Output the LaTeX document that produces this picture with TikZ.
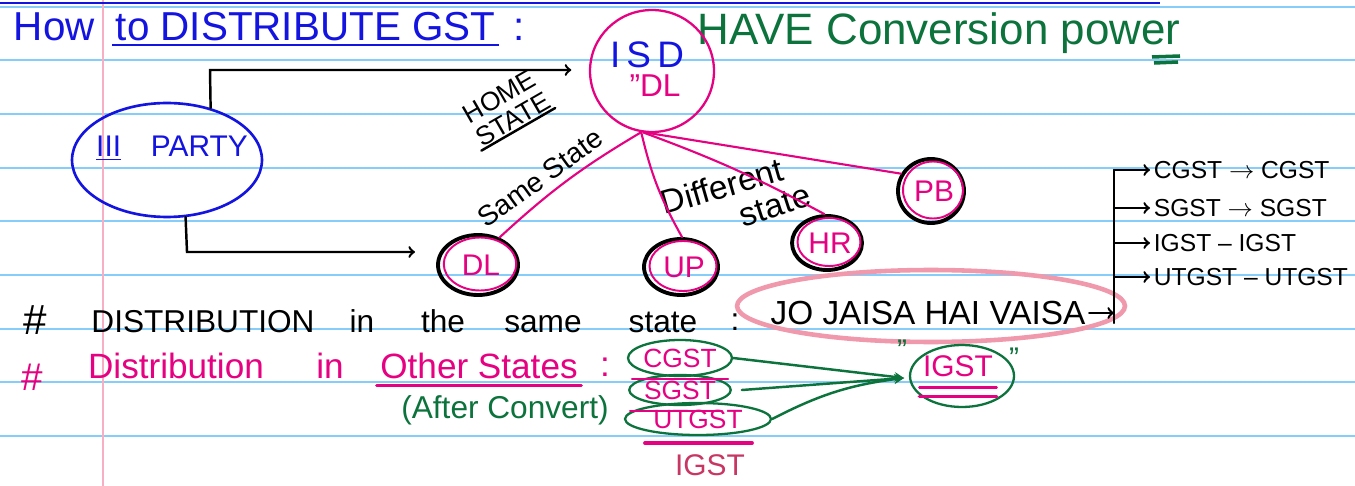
\documentclass[tikz,border=0pt]{standalone}
\usepackage{fontspec}
\setmainfont{Liberation Sans}
\usepackage{xcolor}
\definecolor{inkblue}{RGB}{20,20,225}
\definecolor{inkpink}{RGB}{230,0,130}
\definecolor{inkgreen}{RGB}{12,115,60}
\definecolor{softpink}{RGB}{240,152,172}
\definecolor{deeppink}{RGB}{200,55,100}
\definecolor{rulecol}{RGB}{135,205,250}
\definecolor{margincol}{RGB}{248,175,195}
\usepackage{tikz}
\usetikzlibrary{positioning, shapes.geometric, arrows}
\tikzstyle{word} = [
    inner sep=2pt,
    font=\fontsize{18}{21}\selectfont,
]
\tikzstyle{blueword} = [word, text=inkblue]
\tikzstyle{pinkword} = [word, text=inkpink]
\tikzstyle{greenword} = [word, text=inkgreen]
\tikzstyle{inkword} = [word, text=black]
\tikzstyle{titleword} = [
    blueword, anchor=base west,
    font=\fontsize{23}{26}\selectfont,
]
\tikzstyle{oval} = [
    ellipse, inner sep=0pt,
]
\tikzstyle{cityring} = [
    oval,
    draw=black,
    line width=2.2pt,
]
\tikzstyle{pinkring} = [
    oval,
    draw=inkpink,
    line width=1.1pt,
]
\tikzstyle{taxoval} = [
    oval,
    draw=inkgreen,
    line width=1.3pt,
    text=inkpink,
    font=\fontsize{15}{17}\selectfont,
]
\tikzstyle{pen} = [line width=1.4pt, line cap=round]
\tikzstyle{pinkpen} = [pen, draw=inkpink, line width=1.2pt]
\tikzstyle{arrow} = [pen, ->, >=to]
\tikzstyle{greenarrow} = [pen, draw=inkgreen, ->, >=stealth]

\begin{document}
\begin{tikzpicture}[x=0.02cm, y=-0.02cm]
    \useasboundingbox (0,0) rectangle (1355,486);
    % ruled sheet
    \fill[white] (0,0) rectangle (1355,486);
    \foreach \y in {7,60,114,168,221,275,329,382,436} {
        \draw[rulecol, line width=0.9pt] (0,\y) -- (1355,\y);
    }
    \draw[margincol, line width=0.9pt] (103,0) -- (103,486);
    \draw[inkblue, line width=1.6pt] (0,3) -- (1160,3);

    % heading
    \node[titleword] (howlbl) at (10,41) {How};
    \node[titleword] (titlelbl) at (112,41) {to DISTRIBUTE GST};
    \node[titleword] (titlecolon) at (510,41) {:};
    \draw[inkblue, line width=1.3pt] (titlelbl.south west) -- (titlelbl.south east);
    \node[greenword, anchor=base west, font=\fontsize{25}{28}\selectfont] (powerlbl) at (694,45) {HAVE Conversion power};
    \draw[inkgreen, line width=2pt] (1152,57) -- (1180,56);
    \draw[inkgreen, line width=2pt] (1154,63) -- (1178,62);

    % boxes
    \node[oval, draw=inkpink, line width=1.3pt, minimum width=2.48cm, minimum height=2.44cm] (isd) at (652,71) {};
    \node[blueword, font=\fontsize{21}{24}\selectfont] (isdlbl) at (647,55) {I\,S\,D};
    \node[pinkword, font=\fontsize{18}{21}\selectfont] (isdsub) at (655,86) {"DL};

    \node[oval, draw=inkblue, line width=1.5pt, minimum width=3.8cm, minimum height=2.28cm] (party) at (167,160) {};
    \node[blueword, font=\fontsize{17}{20}\selectfont] (partylbl) at (172,148) {\underline{III}\quad PARTY};

    \foreach \st/\x/\y/\w/\h/\iw/\ih in {DL/478/265/1.6/1.2/1.45/1.06, UP/681/267/1.48/1.12/1.34/1.0, HR/827/243/1.4/1.08/1.26/0.96, PB/931/191/1.32/1.28/1.2/1.14} {
        \node[cityring, minimum width=\w cm, minimum height=\h cm] (\st) at (\x,\y) {};
        \node[pinkring, minimum width=\iw cm, minimum height=\ih cm] (ring\st) at (\x+2,\y-1) {};
        \node[pinkword, font=\fontsize{17}{20}\selectfont] (lbl\st) at (\x+3,\y) {\st};
    }

    \node[inkword, rotate=30, align=center, inner sep=1pt, font=\fontsize{15}{15}\selectfont] (homelbl) at (506,108) {HOME\\STATE};
    \draw[pen] (homelbl.south west) -- (homelbl.south east);
    \node[inkword, font=\fontsize{16}{19}\selectfont, rotate=36, inner sep=1pt] (samelbl) at (540,178) {Same State};
    \node[inkword, font=\fontsize{19}{22}\selectfont, rotate=16, inner sep=1pt] (difflbl) at (722,186) {Different};
    \node[inkword, font=\fontsize{19}{22}\selectfont, rotate=18, inner sep=1pt] (diffstate) at (775,206) {state};

    % arrows
    \coordinate (partyup) at (210,70);
    \coordinate (partydown) at (187,252);
    \draw[arrow, shorten >=10pt] (party.50) -- (partyup) -- (partyup -| isd.west);
    \draw[arrow, shorten >=12pt] (party.-72) -- (partydown) -- (partydown -| DL.west);

    \draw[pinkpen] (isd.-100) to[bend right=6] (DL.52);
    \draw[pinkpen] (isd.-100) to[bend right=8] (UP.88);
    \draw[pinkpen] (isd.-98) to[bend left=4] (HR.95);
    \draw[pinkpen] (isd.-93) -- (PB.150);

    % same state line
    \node[inkword, anchor=base, font=\fontsize{24}{26}\selectfont] (hash1) at (35,334) {\#};
    \foreach \w/\x in {DISTRIBUTION/203, in/362, the/443, same/543, state/663} {
        \node[inkword, anchor=base] (w\w) at (\x,332) {\w};
    }
    \node[inkword, anchor=base] (colon1) at (735,330) {:};

    \node[oval, draw=softpink, line width=2.6pt, minimum width=7.76cm, minimum height=1.44cm] (samering) at (931,306) {};
    \node[inkword, font=\fontsize{19}{22}\selectfont] (jojaisa) at (928,313) {JO JAISA HAI VAISA};

    \coordinate (bustop) at (1114,170);
    \coordinate (busbot) at (1114,323);
    \draw[pen] (bustop) -- (busbot);
    \draw[arrow] (jojaisa.east) -- (jojaisa.east -| busbot);
    \foreach \txt/\y [count=\i] in {{CGST $\rightarrow$ CGST}/170, {SGST $\rightarrow$ SGST}/208, {IGST -- IGST}/243, {UTGST -- UTGST}/277} {
        \coordinate (bus\i) at (1114,\y);
        \node[inkword, anchor=west, font=\fontsize{14}{16}\selectfont] (row\i) at (1150,\y) {\txt};
        \draw[arrow] (bus\i) -- (row\i.west);
    }

    % other states line
    \node[pinkword, anchor=base, font=\fontsize{22}{24}\selectfont] (hash2) at (32,390) {\#};
    \foreach \w/\x in {Distribution/176, in/330} {
        \node[pinkword, anchor=base, font=\fontsize{20}{23}\selectfont] (p\w) at (\x,378) {\w};
    }
    \node[pinkword, anchor=base, font=\fontsize{20}{23}\selectfont] (otherlbl) at (479,378) {Other States};
    \draw[pinkpen, line width=1.6pt] ([yshift=-2pt]otherlbl.south west) -- ([yshift=-2pt]otherlbl.south east);
    \node[pinkword, anchor=base, font=\fontsize{20}{23}\selectfont] (colon2) at (605,376) {:};
    \node[greenword] (afterlbl) at (505,410) {(After Convert)};

    \node[taxoval, minimum width=2.08cm, minimum height=0.72cm] (cgst) at (680,358) {CGST};
    \node[taxoval, minimum width=1.92cm, minimum height=0.6cm] (sgst) at (680,390) {SGST};
    \node[taxoval, minimum width=2.92cm, minimum height=0.64cm] (utgst) at (698,419) {UTGST};
    \draw[pinkpen] ([xshift=-0.96cm, yshift=-0.04cm]cgst.south) -- ([xshift=0.96cm, yshift=-0.04cm]cgst.south);
    \draw[pinkpen] ([xshift=-1.0cm, yshift=-0.1cm]sgst.south) -- ([xshift=0.84cm, yshift=-0.1cm]sgst.south);
    \draw[pinkpen, line width=2.2pt] ([xshift=-1.06cm, yshift=-0.14cm]utgst.south) -- ([xshift=1.08cm, yshift=-0.14cm]utgst.south);
    \node[word, text=deeppink, font=\fontsize{17}{20}\selectfont] (igstsum) at (710,465) {IGST};

    \node[oval, draw=inkgreen, line width=1.3pt, minimum width=2.08cm, minimum height=1.24cm] (igst) at (962,376) {};
    \node[pinkword, font=\fontsize{17}{20}\selectfont] (igstlbl) at (958,366) {IGST};
    \draw[pinkpen] ([yshift=-4pt]igstlbl.south west) -- ([yshift=-4pt]igstlbl.south east);
    \draw[pinkpen, line width=1.8pt] ([yshift=-9pt]igstlbl.south west) -- ([yshift=-9pt]igstlbl.south east);
    \node[greenword, font=\fontsize{17}{20}\selectfont] (qleft) at (902,350) {"};
    \node[greenword, font=\fontsize{17}{20}\selectfont] (qright) at (1014,358) {"};

    \coordinate (merge) at (904,378);
    \draw[greenarrow] (cgst.east) -- (merge);
    \draw[greenarrow] ([xshift=0.2cm]sgst.east) -- (merge);
    \draw[greenarrow] (utgst.east) to[bend left=10] (merge);

\end{tikzpicture}
\end{document}
